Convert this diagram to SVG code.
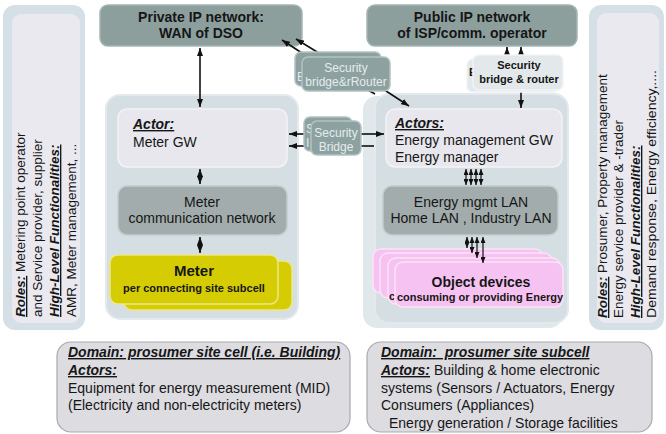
<svg xmlns="http://www.w3.org/2000/svg" width="666" height="434" viewBox="0 0 666 434">
  <style>
    text { font-family: "Liberation Sans", Arial, sans-serif; fill: #161616; }
    .b { font-weight: bold; }
    .biu { font-weight: bold; font-style: italic; text-decoration: underline; }
    .t14 { font-size: 14px; }
    .side { font-size: 13.5px; }
    .panel-out { fill: #d4dfe6; }
    .panel-in { fill: #e9e9ef; }
    .domain { fill: #d5dee3; stroke: #e3e9ed; stroke-width: 2; }
    .domain-back { fill: #e1e8ec; }
    .actor { fill: #e7e7ed; stroke: #f3f3f6; stroke-width: 1.5; }
    .lan { fill: #a2acac; stroke: #c3cccc; stroke-width: 1.5; }
    .net { fill: #8c9f9d; stroke: #a5b5b3; stroke-width: 1.5; }
    .bridge { fill: #8da1a1; stroke: #b3c2c2; stroke-width: 1.5; }
    .bridge-t { fill: #e4ecec; font-size: 12px; }
    .bridge-light { fill: #e3e8eb; stroke: #f1f4f6; stroke-width: 1.5; }
    .meter { fill: #d5cc04; stroke: #ece884; stroke-width: 1.5; }
    .pink { fill: #f6c2f2; stroke: #fbe4f8; stroke-width: 1.5; }
    .note { fill: #dcdce1; stroke: #a9a9ae; stroke-width: 1.2; }
    .c { stroke: #111; stroke-width: 1.6; fill: none; }
    .cs { stroke: #111; stroke-width: 1.2; fill: none; }
  </style>
  <defs>
    <marker id="ah" viewBox="0 0 8 6" refX="8" refY="3" markerWidth="8" markerHeight="6" markerUnits="userSpaceOnUse" orient="auto-start-reverse">
      <path d="M0,0 L8,3 L0,6 z" fill="#111"/>
    </marker>
    <marker id="ahs" viewBox="0 0 6 5" refX="6" refY="2.5" markerWidth="6" markerHeight="5" markerUnits="userSpaceOnUse" orient="auto-start-reverse">
      <path d="M0,0 L6,2.5 L0,5 z" fill="#111"/>
    </marker>
  </defs>

  <!-- Roles panel, metering side -->
  <g id="roles-left">
    <rect class="panel-out" x="3" y="5" width="82" height="325" rx="12"/>
    <rect class="panel-in" x="12" y="14" width="68" height="309" rx="9"/>
    <text class="side" transform="translate(25,317) rotate(-90)"><tspan class="biu">Roles:</tspan> Metering point operator</text>
    <text class="side" transform="translate(42,317) rotate(-90)">and Service provider, supplier</text>
    <text class="side" transform="translate(59,317) rotate(-90)"><tspan class="biu">High-Level Functionalities:</tspan></text>
    <text class="side" transform="translate(76,317) rotate(-90)">AMR, Meter management, ...</text>
  </g>

  <!-- Roles panel, prosumer side -->
  <g id="roles-right">
    <rect class="panel-out" x="589" y="5" width="75" height="325" rx="12"/>
    <rect class="panel-in" x="597" y="13" width="62" height="310" rx="9"/>
    <text class="side" transform="translate(607,318) rotate(-90)"><tspan class="biu">Roles:</tspan> Prosumer, Property management</text>
    <text class="side" transform="translate(623,318) rotate(-90)">Energy service provider &amp; -trader</text>
    <text class="side" transform="translate(640,318) rotate(-90)"><tspan class="biu">High-Level Functionalities:</tspan></text>
    <text class="side" transform="translate(656,318) rotate(-90)" textLength="248" lengthAdjust="spacingAndGlyphs">Demand response, Energy efficiency,....</text>
  </g>

  <!-- WAN networks -->
  <g id="private-ip">
    <rect class="net" x="100" y="5" width="202" height="41" rx="8"/>
    <text class="b t14" x="201" y="22" text-anchor="middle">Private IP network:</text>
    <text class="b t14" x="201" y="38" text-anchor="middle">WAN of DSO</text>
  </g>
  <g id="public-ip">
    <rect class="net" x="367" y="5" width="210" height="41" rx="8"/>
    <text class="b t14" x="472" y="22" text-anchor="middle">Public IP network</text>
    <text class="b t14" x="472" y="38" text-anchor="middle">of ISP/comm. operator</text>
  </g>

  <!-- Prosumer site cell (metering domain) -->
  <g id="meter-domain">
    <rect class="domain" x="106" y="95" width="192" height="224" rx="14"/>
  </g>
  <g id="meter-gw">
    <rect class="actor" x="118" y="109" width="169" height="58" rx="9"/>
    <text class="biu t14" x="133" y="129">Actor:</text>
    <text class="t14" x="133" y="147">Meter GW</text>
  </g>
  <g id="meter-network">
    <rect class="lan" x="118" y="186" width="169" height="49" rx="9"/>
    <text class="t14" x="202" y="207" text-anchor="middle">Meter</text>
    <text class="t14" x="202" y="223" text-anchor="middle">communication network</text>
  </g>
  <g id="meter">
    <rect class="meter" x="124" y="261" width="168" height="49" rx="8"/>
    <rect class="meter" x="110" y="255" width="168" height="49" rx="8"/>
    <text class="b" font-size="15" x="194" y="276" text-anchor="middle">Meter</text>
    <text class="b" font-size="11" x="194" y="292" text-anchor="middle">per connecting site subcell</text>
  </g>

  <!-- Prosumer site subcell (energy management domain) -->
  <g id="energy-domain">
    <rect class="domain-back" x="363" y="96" width="200" height="232" rx="14"/>
    <rect class="domain" x="375" y="94" width="193" height="229" rx="14"/>
  </g>
  <g id="energy-gw">
    <rect class="actor" x="386" y="109" width="176" height="58" rx="9"/>
    <text class="biu t14" x="395" y="128">Actors:</text>
    <text class="t14" x="395" y="145">Energy management GW</text>
    <text class="t14" x="395" y="162">Energy manager</text>
  </g>
  <g id="energy-lan">
    <rect class="lan" x="383" y="186" width="175" height="49" rx="9"/>
    <text class="t14" x="471" y="207" text-anchor="middle">Energy mgmt LAN</text>
    <text class="t14" x="471" y="223" text-anchor="middle">Home LAN , Industry LAN</text>
  </g>
  <g id="object-devices">
    <rect class="pink" x="373" y="249" width="170" height="44" rx="8"/>
    <rect class="pink" x="380" y="253" width="172" height="45" rx="8"/>
    <rect class="pink" x="388" y="258" width="172" height="46" rx="8"/>
    <text class="b" font-size="11" x="389" y="300">c</text>
    <rect class="pink" x="395" y="262" width="168" height="45" rx="8"/>
    <text class="b" font-size="14" x="481" y="287" text-anchor="middle">Object devices</text>
    <text class="b" font-size="11" x="480" y="301" text-anchor="middle">consuming or providing Energy</text>
  </g>

  <!-- Connectors -->
  <g id="connectors">
    <line class="c" x1="200" y1="48" x2="200" y2="107" marker-start="url(#ah)" marker-end="url(#ah)"/>
    <line class="c" x1="200" y1="169" x2="200" y2="184" marker-start="url(#ah)" marker-end="url(#ah)"/>
    <line class="c" x1="200" y1="237" x2="200" y2="253" marker-start="url(#ah)" marker-end="url(#ah)"/>

    <line class="c" x1="305" y1="55" x2="282" y2="40" marker-end="url(#ah)"/>
    <line class="c" x1="322" y1="55" x2="296" y2="39" marker-end="url(#ah)"/>
    <line class="c" x1="383" y1="89" x2="409" y2="106" marker-end="url(#ah)"/>
    <line class="c" x1="366" y1="89" x2="375" y2="94"/>

    <line class="c" x1="306" y1="134" x2="289" y2="134" marker-end="url(#ah)"/>
    <line class="c" x1="306" y1="146" x2="289" y2="146" marker-end="url(#ah)"/>
    <line class="c" x1="360" y1="134" x2="384" y2="134" marker-end="url(#ah)"/>
    <line class="c" x1="360" y1="146" x2="374" y2="146"/>

    <line class="c" x1="507" y1="56" x2="507" y2="47" marker-end="url(#ah)"/>
    <line class="c" x1="521" y1="56" x2="521" y2="47" marker-end="url(#ah)"/>
    <line class="c" x1="521" y1="90" x2="521" y2="108" marker-end="url(#ah)"/>
    <circle cx="507" cy="88" r="1" fill="#111"/>

    <line class="cs" x1="466" y1="169" x2="466" y2="185" marker-start="url(#ahs)" marker-end="url(#ahs)"/>
    <line class="cs" x1="471" y1="169" x2="471" y2="185" marker-start="url(#ahs)" marker-end="url(#ahs)"/>
    <line class="cs" x1="476" y1="169" x2="476" y2="185" marker-start="url(#ahs)" marker-end="url(#ahs)"/>
    <line class="cs" x1="481" y1="169" x2="481" y2="185" marker-start="url(#ahs)" marker-end="url(#ahs)"/>

    <line class="cs" x1="467" y1="237" x2="467" y2="248" marker-start="url(#ahs)" marker-end="url(#ahs)"/>
    <line class="cs" x1="472" y1="237" x2="472" y2="253" marker-start="url(#ahs)" marker-end="url(#ahs)"/>
    <line class="cs" x1="477" y1="237" x2="477" y2="258" marker-start="url(#ahs)" marker-end="url(#ahs)"/>
    <line class="cs" x1="483" y1="237" x2="483" y2="263" marker-start="url(#ahs)" marker-end="url(#ahs)"/>
  </g>

  <!-- Security bridges (stacked cards) -->
  <g id="bridge-router-dso">
    <rect class="bridge" x="295" y="52" width="86" height="34" rx="6"/>
    <text class="bridge-t" x="297" y="81">E</text>
    <rect class="bridge" x="302" y="57" width="88" height="34" rx="6"/>
    <text class="bridge-t" x="346" y="72" text-anchor="middle">Security</text>
    <text class="bridge-t" x="346" y="86" text-anchor="middle">bridge&amp;rRouter</text>
  </g>
  <g id="bridge-middle">
    <rect class="bridge" x="304" y="117" width="48" height="34" rx="6"/>
    <text class="bridge-t" x="306" y="133">S</text>
    <text class="bridge-t" x="306" y="147">I</text>
    <rect class="bridge" x="311" y="121" width="50" height="34" rx="6"/>
    <text class="bridge-t" x="336" y="137" text-anchor="middle">Security</text>
    <text class="bridge-t" x="336" y="151" text-anchor="middle">Bridge</text>
  </g>
  <g id="bridge-router-isp">
    <rect class="bridge-light" x="467" y="59" width="92" height="33" rx="6"/>
    <text class="b" font-size="11" x="469" y="76">E</text>
    <rect class="bridge-light" x="473" y="55" width="90" height="35" rx="6"/>
    <text class="b" font-size="11" x="519" y="69" text-anchor="middle">Security</text>
    <text class="b" font-size="11" x="519" y="83" text-anchor="middle">bridge &amp; router</text>
  </g>

  <!-- Domain descriptions -->
  <g id="domain-cell">
    <rect class="note" x="57" y="342" width="293" height="90" rx="14"/>
    <text class="biu t14" x="68" y="357">Domain: prosumer site cell (i.e. Building)</text>
    <text class="biu t14" x="68" y="375">Actors:</text>
    <text class="t14" x="68" y="393">Equipment for energy measurement (MID)</text>
    <text class="t14" x="68" y="410">(Electricity and non-electricity meters)</text>
  </g>
  <g id="domain-subcell">
    <rect class="note" x="367" y="342" width="285" height="90" rx="14"/>
    <text class="biu t14" x="381" y="357" xml:space="preserve">Domain:  prosumer site subcell</text>
    <text class="t14" x="381" y="375"><tspan class="biu">Actors:</tspan> Building &amp; home electronic</text>
    <text class="t14" x="381" y="393">systems (Sensors / Actuators, Energy</text>
    <text class="t14" x="381" y="410">Consumers (Appliances)</text>
    <text class="t14" x="389" y="428">Energy generation / Storage facilities</text>
  </g>
</svg>
